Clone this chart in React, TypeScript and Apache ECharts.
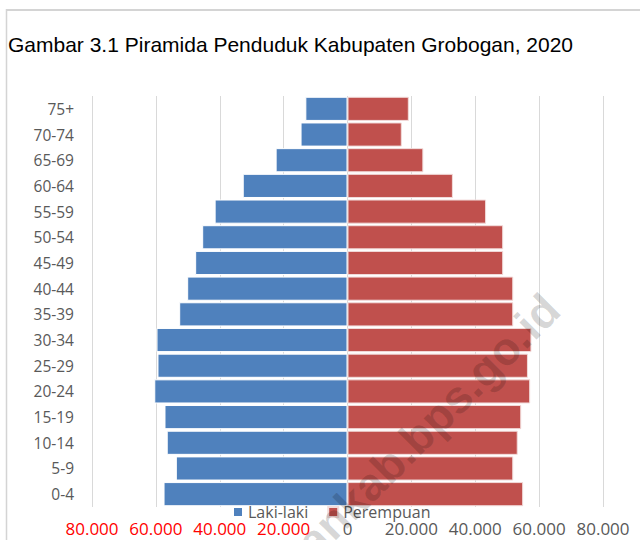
import React, { useEffect, useRef } from "react";
import * as echarts from "echarts";

const ageGroups = ["0-4", "5-9", "10-14", "15-19", "20-24", "25-29", "30-34", "35-39", "40-44", "45-49", "50-54", "55-59", "60-64", "65-69", "70-74", "75+"];
const male = [57600, 53750, 56600, 57300, 60500, 59500, 59800, 52700, 50200, 47700, 45500, 41600, 32800, 22500, 14700, 13200];
const female = [55000, 51900, 53300, 54400, 57200, 56500, 57600, 51900, 51900, 48750, 48750, 43400, 33000, 23750, 17000, 19200];
const seriesNames = ["Laki-laki", "Perempuan"];
const titleText = "Gambar 3.1 Piramida Penduduk Kabupaten Grobogan, 2020";
const watermark = "grobogankab.bps.go.id";

const fmt = (v: number) => {
  const a = Math.abs(v);
  return a.toString().replace(/\B(?=(\d{3})+(?!\d))/g, ".");
};

export default function App() {
  const ref = useRef<HTMLDivElement>(null);
  useEffect(() => {
    if (!ref.current) return;
    const chart = echarts.init(ref.current, null, { renderer: "svg" });
    const font = "'Open Sans', sans-serif";
    chart.setOption({
      animation: false,
      backgroundColor: "#ffffff",
      grid: { left: 92, right: 37, top: 96, bottom: 33, containLabel: false },
      legend: {
        left: 232,
        top: 504,
        icon: "rect",
        itemWidth: 10,
        itemHeight: 10,
        itemGap: 19,
        padding: 0,
        textStyle: { fontFamily: font, fontSize: 16, color: "#595959" },
        data: seriesNames,
      },
      xAxis: {
        type: "value",
        min: -80000,
        max: 80000,
        interval: 20000,
        axisLine: { show: false },
        axisTick: { show: false },
        splitLine: { show: true, lineStyle: { color: "#d9d9d9", width: 1 } },
        axisLabel: {
          margin: 13,
          fontFamily: font,
          fontSize: 17,
          color: "#595959",
          formatter: (v: number) => (v < 0 ? `{r|${fmt(v)}}` : `{g|${fmt(v)}}`),
          rich: {
            r: { color: "#ff0000", fontFamily: font, fontSize: 17 },
            g: { color: "#595959", fontFamily: font, fontSize: 17 },
          },
        },
      },
      yAxis: {
        type: "category",
        data: ageGroups,
        axisLine: { show: false },
        axisTick: { show: false },
        axisLabel: { margin: 18, fontFamily: font, fontSize: 15.5, color: "#595959" },
      },
      series: [
        {
          name: seriesNames[0],
          type: "bar",
          stack: "pop",
          barCategoryGap: "6%",
          data: male.map((v) => -v),
          itemStyle: { color: "#4f81bd", borderColor: "#ffffff", borderWidth: 1 },
        },
        {
          name: seriesNames[1],
          type: "bar",
          stack: "pop",
          barCategoryGap: "6%",
          data: female,
          itemStyle: { color: "#c0504d", borderColor: "#f2dcdb", borderWidth: 1 },
        },
      ],
      graphic: [
        {
          type: "line",
          shape: { x1: 6, y1: 10, x2: 640, y2: 10 },
          style: { stroke: "#d4d4d4", lineWidth: 2 },
        },
        {
          type: "line",
          shape: { x1: 6.5, y1: 9, x2: 6.5, y2: 540 },
          style: { stroke: "#d4d4d4", lineWidth: 1.5 },
        },
        {
          type: "text",
          left: 8,
          top: 34,
          style: {
            text: titleText,
            fontFamily: "'Liberation Sans', Arial, sans-serif",
            fontSize: 21,
            fill: "#000000",
          },
        },
        {
          type: "text",
          x: 568,
          y: 318,
          rotation: Math.PI / 4,
          z: 100,
          style: {
            text: watermark,
            align: "right",
            verticalAlign: "bottom",
            fontFamily: "'Liberation Sans', Arial, sans-serif",
            fontWeight: "bold",
            fontSize: 46,
            fill: "rgba(0,0,0,0.16)",
          },
        },
      ],
    });
    return () => chart.dispose();
  }, []);
  return (
    <div
      ref={ref}
      style={{ position: "fixed", left: 0, top: 0, width: 640, height: 540 }}
    />
  );
}
